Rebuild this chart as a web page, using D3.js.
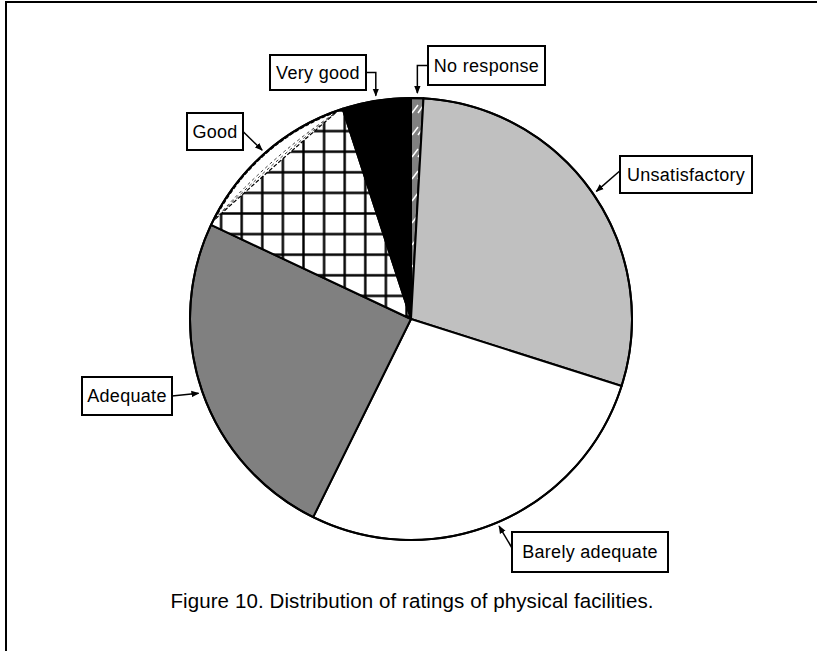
<!DOCTYPE html>
<html>
<head>
<meta charset="utf-8">
<script src="https://cdn.jsdelivr.net/npm/d3@7"></script>
<style>
  body { margin: 0; background: #fff; }
  text { font-family: Arial, "Liberation Sans", sans-serif; }
</style>
</head>
<body>
<div id="chart"></div>
<script>
// =================================== DATA ===================================

const categories = ["No response", "Unsatisfactory", "Barely adequate", "Adequate", "Good", "Very good"];
const values = [0.9, 29.0, 27.4, 24.7, 13.0, 5.0];
const caption = "Figure 10. Distribution of ratings of physical facilities.";

// fills for each slice (patterns are defined below)
const fills = ["url(#noresp)", "#c0c0c0", "#ffffff", "#808080", "url(#xhatch)", "#000000"];

// label boxes: x, y, w, h, connector type
const boxes = [
  { x: 428, y: 46, w: 117, h: 39, kind: "elbowLeft" },
  { x: 620, y: 156, w: 132, h: 37, kind: "left" },
  { x: 512, y: 532, w: 156, h: 40, kind: "left" },
  { x: 82, y: 377, w: 90, h: 38, kind: "right" },
  { x: 187, y: 113, w: 56, h: 37, kind: "right" },
  { x: 270, y: 55, w: 96, h: 35, kind: "elbowRight" }
]

// =================================== SETTINGS ===================================

const width = 817
const height = 651
const cx = 411, cy = 319, r = 221

const svg = d3.select('#chart')
  .append('svg')
  .attr('width', width)
  .attr('height', height)

svg.append('rect').attr('width', width).attr('height', height).attr('fill', '#fff')

const defs = svg.append('defs')

// crosshatch for "Good" (lines drawn mid-tile so they are not clipped)
const step = 20.6
const xh = defs.append('pattern')
  .attr('id', 'xhatch')
  .attr('patternUnits', 'userSpaceOnUse')
  .attr('x', (263.3 - step / 2) % step).attr('y', (141.7 - step / 2) % step)
  .attr('width', step).attr('height', step)
xh.append('rect').attr('width', step).attr('height', step).attr('fill', '#fff')
xh.append('path')
  .attr('d', `M${step / 2},0V${step}M0,${step / 2}H${step}`)
  .attr('stroke', '#000').attr('stroke-width', 2.4)

// grey with white dashes for "No response"
const nr = defs.append('pattern')
  .attr('id', 'noresp')
  .attr('patternUnits', 'userSpaceOnUse')
  .attr('width', 12).attr('height', 22)
nr.append('rect').attr('width', 12).attr('height', 22).attr('fill', '#808080')
nr.append('path').attr('d', 'M1,14L7,6M7,14L12,7').attr('stroke', '#fff').attr('stroke-width', 1.5)

defs.append('marker')
  .attr('id', 'arrow')
  .attr('viewBox', '0 0 10 10')
  .attr('refX', 9).attr('refY', 5)
  .attr('markerWidth', 8).attr('markerHeight', 8)
  .attr('markerUnits', 'userSpaceOnUse')
  .attr('orient', 'auto')
  .append('path').attr('d', 'M0,1L10,5L0,9Z').attr('fill', '#000')

// frame (left and top only)
svg.append('path')
  .attr('d', `M6,${height}V2H${width}`)
  .attr('fill', 'none').attr('stroke', '#000').attr('stroke-width', 2)

// =================================== PIE ===================================

const pie = d3.pie().sort(null).value(d => d)
const arcs = pie(values)
const arc = d3.arc().innerRadius(0).outerRadius(r)

const g = svg.append('g').attr('transform', `translate(${cx},${cy})`)

g.selectAll('path.slice')
  .data(arcs)
  .enter().append('path')
  .attr('class', 'slice')
  .attr('d', arc)
  .attr('fill', (d, i) => fills[i])
  .attr('stroke', '#000')
  .attr('stroke-width', 2)
  .attr('stroke-linejoin', 'round')

// dashed crescent along the rim of "Good"
const good = arcs[4]
const pt = (a, rr) => [rr * Math.sin(a), -rr * Math.cos(a)]
const a0 = good.startAngle + 0.03, a1 = good.endAngle - 0.03
const am = (a0 + a1) / 2
const p0 = pt(a0, r - 1), p1 = pt(a1, r - 1)
const crescent = (k) => {
  const pc = pt(am, r * k)
  const p = d3.path()
  p.moveTo(p0[0], p0[1])
  p.arc(0, 0, r - 1, a0 - Math.PI / 2, a1 - Math.PI / 2)
  p.quadraticCurveTo(pc[0], pc[1], p0[0], p0[1])
  return p.toString()
}
g.append('path')
  .attr('d', crescent(0.93))
  .attr('fill', '#fff')
  .attr('stroke', '#000')
  .attr('stroke-width', 1.2)
  .attr('stroke-dasharray', '4,2')
;[0.95, 0.972].forEach(k => {
  const pc = pt(am, r * k)
  const p = d3.path()
  p.moveTo(p0[0], p0[1])
  p.quadraticCurveTo(pc[0], pc[1], p1[0], p1[1])
  g.append('path')
    .attr('d', p.toString())
    .attr('fill', 'none')
    .attr('stroke', '#333')
    .attr('stroke-width', 1)
    .attr('stroke-dasharray', '3,3')
})

// outline
g.append('circle').attr('r', r).attr('fill', 'none').attr('stroke', '#000').attr('stroke-width', 2)

// =================================== LABELS ===================================

const tip = (d) => {
  const a = (d.startAngle + d.endAngle) / 2
  const rr = r + 4
  return [cx + rr * Math.sin(a), cy - rr * Math.cos(a)]
}

arcs.forEach((d, i) => {
  const b = boxes[i]
  const t = tip(d)
  let pts
  if (b.kind === 'left') pts = [[b.x, b.y + b.h * 0.4], t]
  else if (b.kind === 'right') pts = [[b.x + b.w, b.y + b.h / 2], t]
  else if (b.kind === 'elbowLeft') pts = [[b.x, b.y + b.h / 2], [t[0], b.y + b.h / 2], [t[0], t[1] - 1]]
  else pts = [[b.x + b.w, b.y + b.h / 2], [t[0], b.y + b.h / 2], [t[0], t[1] - 1]]

  svg.append('path')
    .attr('d', d3.line()(pts))
    .attr('fill', 'none')
    .attr('stroke', '#000')
    .attr('stroke-width', 1.5)
    .attr('marker-end', 'url(#arrow)')

  svg.append('rect')
    .attr('x', b.x).attr('y', b.y)
    .attr('width', b.w).attr('height', b.h)
    .attr('fill', '#fff').attr('stroke', '#000').attr('stroke-width', 2)

  svg.append('text')
    .attr('x', b.x + b.w / 2)
    .attr('y', b.y + b.h / 2 + 6)
    .attr('text-anchor', 'middle')
    .style('font-size', '18px')
    .style('letter-spacing', '0.3px')
    .text(categories[i])
})

// =================================== CAPTION ===================================

svg.append('text')
  .attr('x', 412)
  .attr('y', 608)
  .attr('text-anchor', 'middle')
  .style('font-size', '20.5px')
  .style('letter-spacing', '0.1px')
  .text(caption)
</script>
</body>
</html>
